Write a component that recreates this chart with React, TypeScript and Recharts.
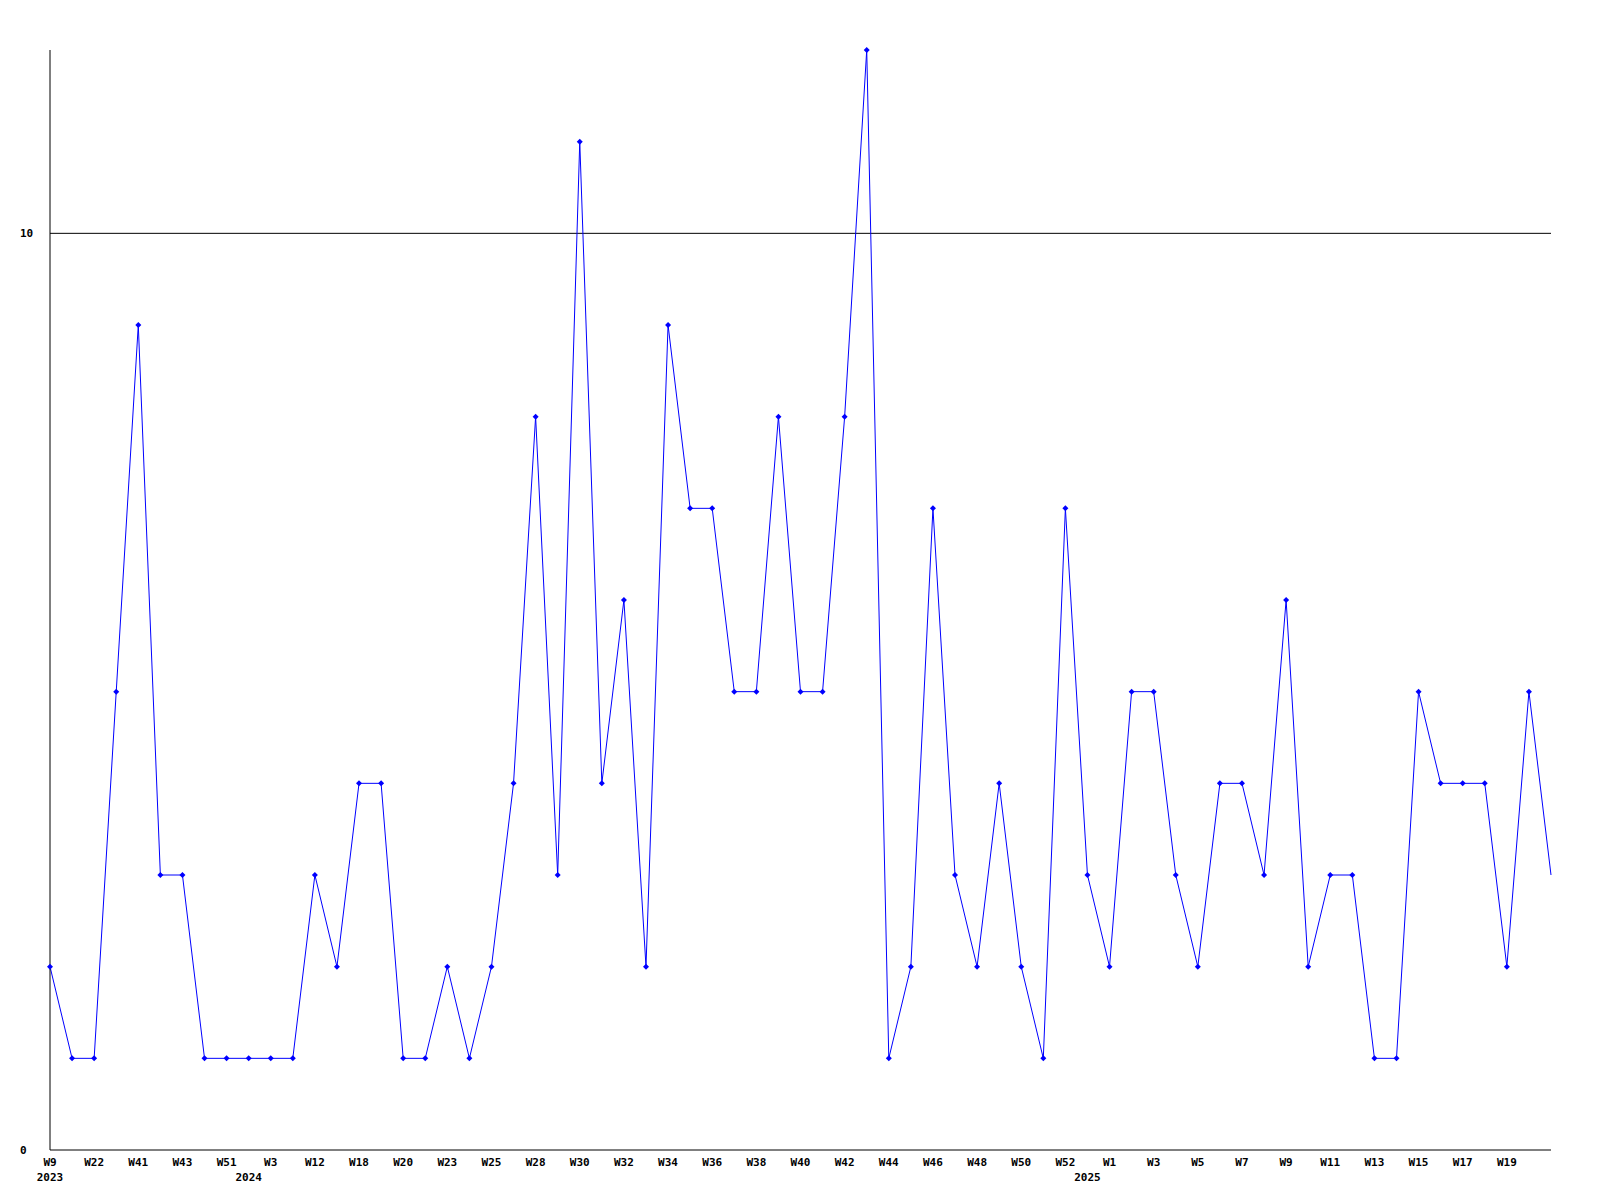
import React from 'react';
import { Line, LineChart, ReferenceLine, XAxis, YAxis } from 'recharts';

// week labels, one per point (odd ones are not drawn)
const weeks = [
	'W9', 'W15', 'W22', 'W35', 'W41', 'W42', 'W43', 'W47', 'W51', 'W1',
	'W3', 'W8', 'W12', 'W15b', 'W18', 'W19', 'W20', 'W22b', 'W23', 'W24',
	'W25', 'W26', 'W28', 'W29', 'W30', 'W31', 'W32', 'W33', 'W34', 'W35b',
	'W36', 'W37', 'W38', 'W39', 'W40', 'W41b', 'W42b', 'W43b', 'W44', 'W45',
	'W46', 'W47b', 'W48', 'W49', 'W50', 'W51b', 'W52', 'W53', 'W1b', 'W2',
	'W3b', 'W4', 'W5', 'W6', 'W7', 'W8b', 'W9b', 'W10', 'W11', 'W12b',
	'W13', 'W14', 'W15c', 'W16', 'W17', 'W18b', 'W19b', 'W20b', 'W21',
];

// year shown under the first week of each year
const years: Record<number, string> = { 0: '2023', 9: '2024', 47: '2025' };

const counts = [
	2, 1, 1, 5, 9, 3, 3, 1, 1, 1,
	1, 1, 3, 2, 4, 4, 1, 1, 2, 1,
	2, 4, 8, 3, 11, 4, 6, 2, 9, 7,
	7, 5, 5, 8, 5, 5, 8, 12, 1, 2,
	7, 3, 2, 4, 2, 1, 7, 3, 2, 5,
	5, 3, 2, 4, 4, 3, 6, 2, 3, 3,
	1, 1, 5, 4, 4, 4, 2, 5, 3,
];

const yTicks = [0, 10];

const data = weeks.map((week, i) => ({ week, count: counts[i] }));

const FONT = '"DejaVu Sans Mono", monospace';
const last = counts.length - 1;

const WeekTick = (props: any) => {
	const { x, y, index } = props;
	const label = weeks[index].replace(/[a-z]$/, '');
	return (
		<g>
			{index % 2 === 0 && index !== last && (
				<text x={x} y={y + 16} textAnchor="middle" fontFamily={FONT} fontSize={11} fontWeight="bold" fill="#000">
					{label}
				</text>
			)}
			{years[index] && (
				<text x={x} y={y + 31} textAnchor="middle" fontFamily={FONT} fontSize={11} fontWeight="bold" fill="#000">
					{years[index]}
				</text>
			)}
		</g>
	);
};

const CountTick = (props: any) => {
	const { x, y, payload } = props;
	return (
		<text x={x - 30} y={y + 4} textAnchor="start" fontFamily={FONT} fontSize={11} fontWeight="bold" fill="#000">
			{payload.value}
		</text>
	);
};

const Marker = (props: any) => {
	const { cx, cy, index } = props;
	if (index === last || cx == null) return <g key={`m-${index}`} />;
	return (
		<path
			key={`m-${index}`}
			d={`M${cx},${cy - 3}L${cx + 3},${cy}L${cx},${cy + 3}L${cx - 3},${cy}Z`}
			fill="#0000ff"
			stroke="none"
		/>
	);
};

export default function App() {
	return (
		<div style={{ position: 'absolute', left: 0, top: 0, background: '#fff' }}>
			<LineChart width={1600} height={1200} data={data} margin={{ top: 50, right: 49, left: 0, bottom: 0 }}>
				<XAxis
					dataKey="week"
					interval={0}
					height={50}
					tickLine={false}
					tickSize={0}
					tickMargin={0}
					axisLine={{ stroke: '#000' }}
					tick={<WeekTick />}
				/>
				<YAxis
					domain={[0, 12]}
					ticks={yTicks}
					width={50}
					tickLine={false}
					tickSize={0}
					tickMargin={0}
					axisLine={{ stroke: '#000' }}
					tick={<CountTick />}
				/>
				<ReferenceLine y={yTicks[1]} stroke="#000" strokeWidth={1} />
				<Line
					type="linear"
					dataKey="count"
					stroke="#0000ff"
					strokeWidth={1}
					dot={Marker}
					activeDot={false}
					isAnimationActive={false}
				/>
			</LineChart>
		</div>
	);
}
